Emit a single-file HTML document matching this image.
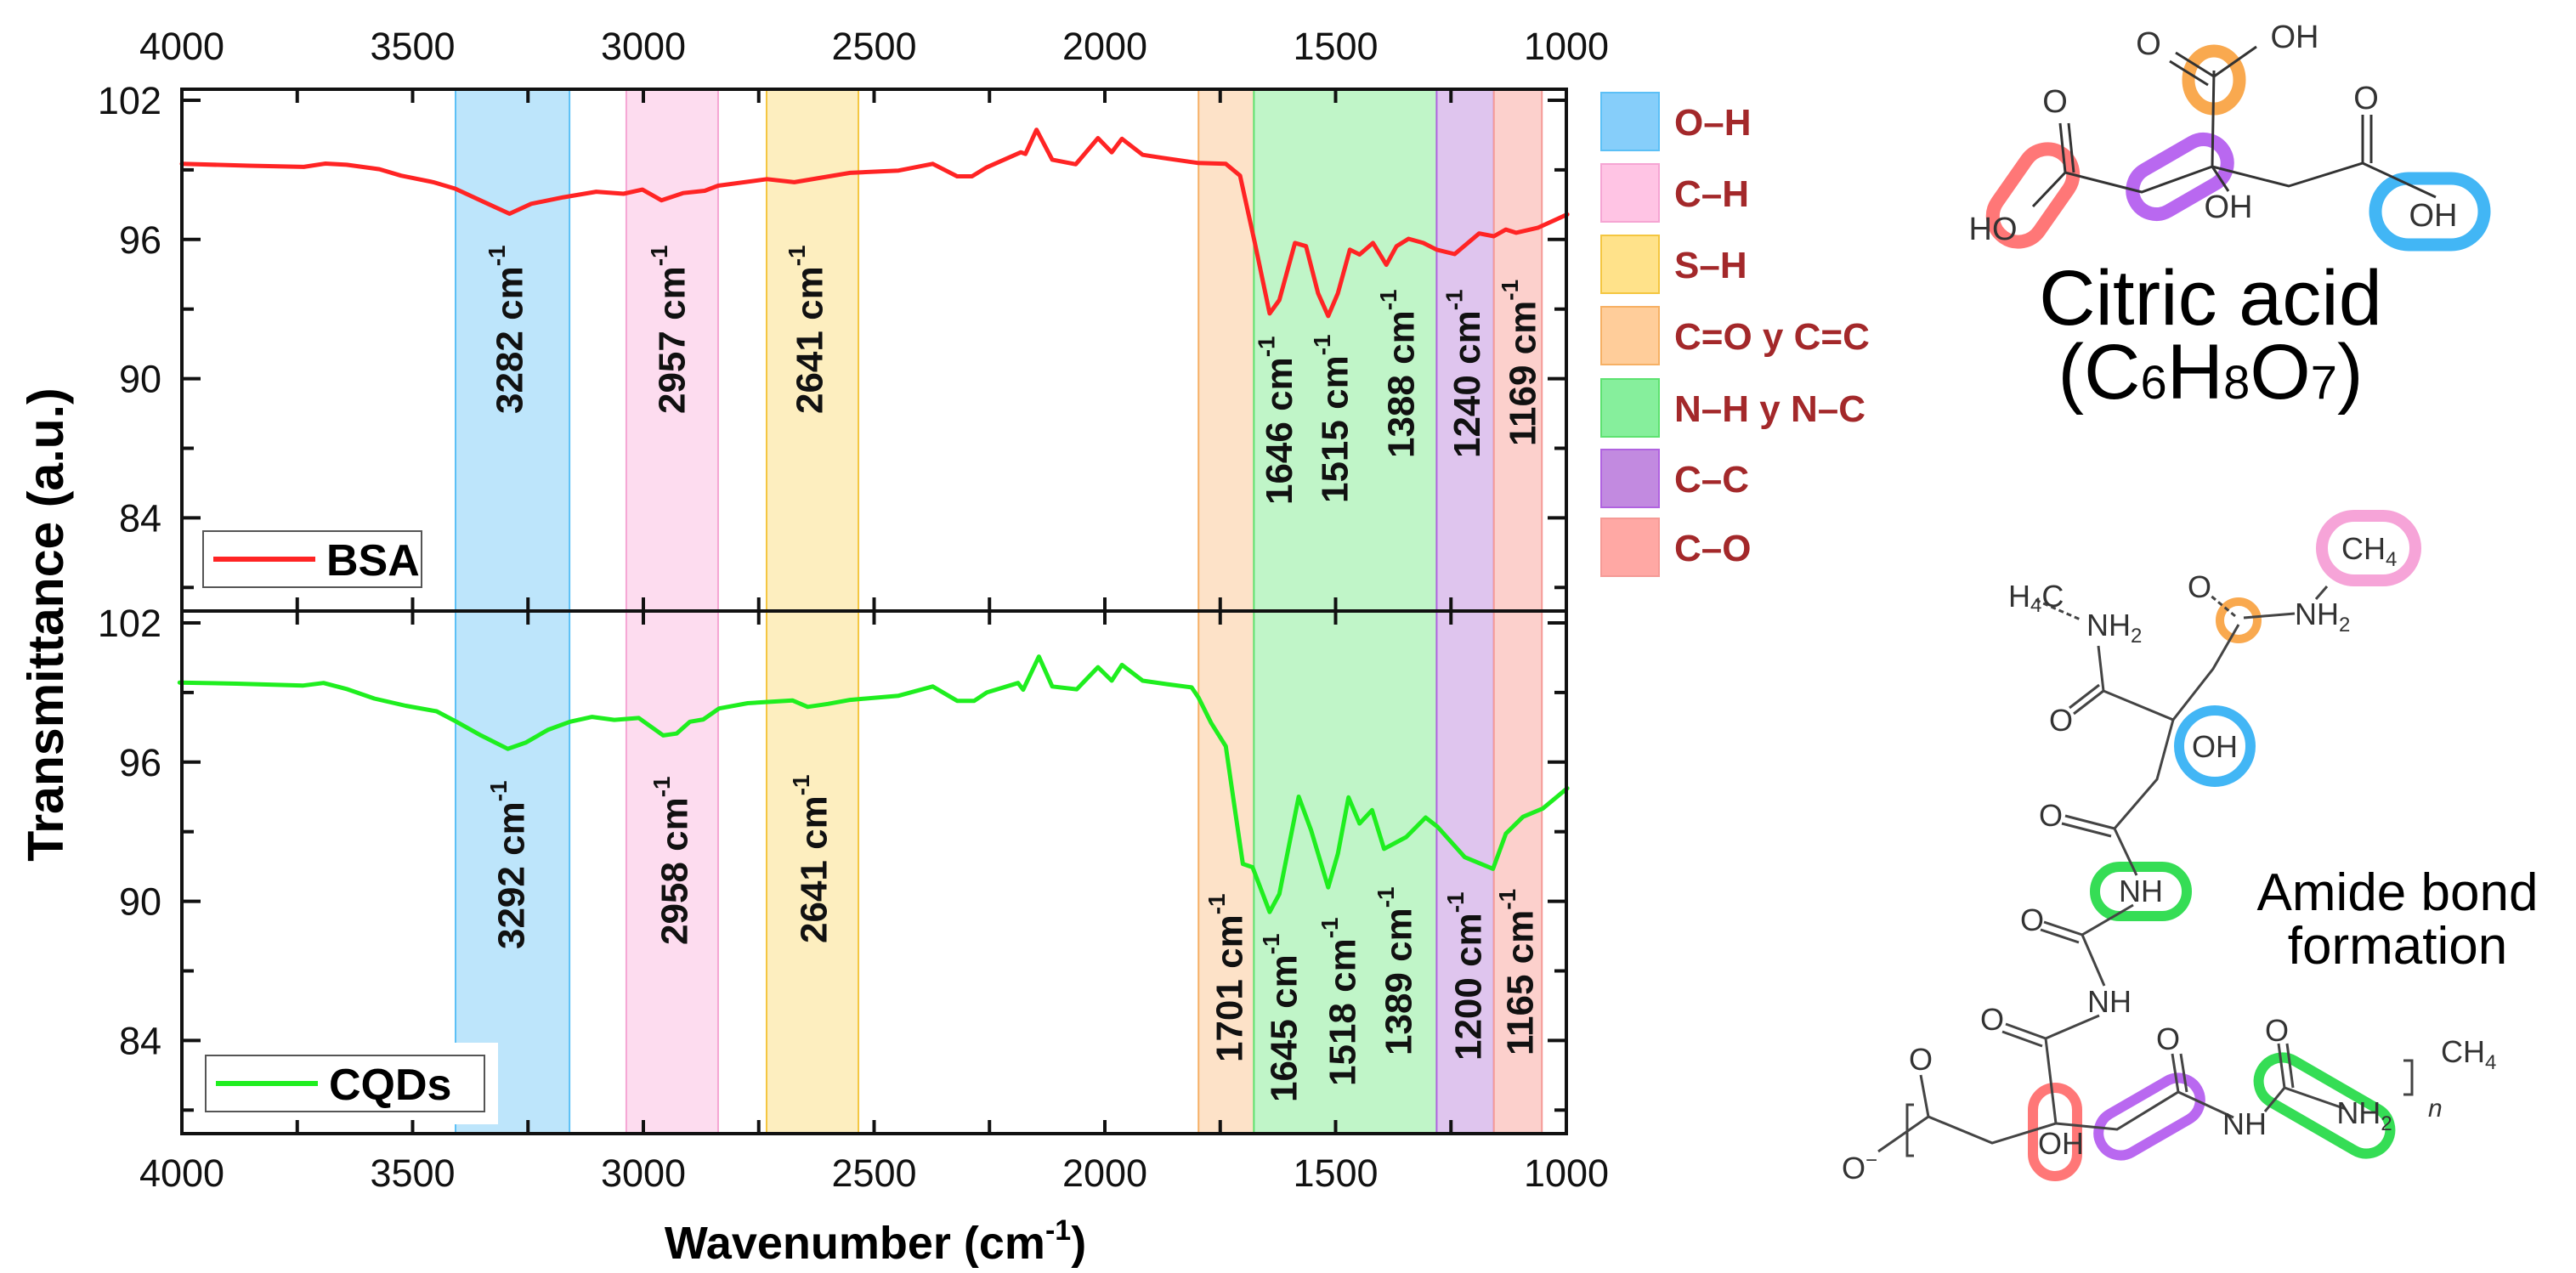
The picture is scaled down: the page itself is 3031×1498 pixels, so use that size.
<!DOCTYPE html>
<html><head><meta charset="utf-8"><style>
html,body{margin:0;padding:0;background:#fff;}
svg{display:block;}
text{font-family:"Liberation Sans",sans-serif;}
</style></head><body>
<svg id="fig" width="3031" height="1498" viewBox="0 0 3031 1498" xmlns="http://www.w3.org/2000/svg">
<g id="plot"></g>
<g id="chem" font-family="Liberation Sans, sans-serif" fill="#333">
 <g>
  <rect x="2332" y="200" width="120" height="60" rx="30" transform="rotate(-55 2392 230)" fill="none" stroke="#f77" stroke-width="16"/>
  <rect x="2505" y="180" width="120" height="56" rx="28" transform="rotate(-30 2565 208)" fill="none" stroke="#b968f0" stroke-width="16"/>
  <ellipse cx="2605" cy="94" rx="30" ry="34" fill="none" stroke="#f9a94f" stroke-width="15"/>
  <rect x="2795" y="210" width="128" height="78" rx="39" fill="none" stroke="#42b6f5" stroke-width="15"/>
  <g stroke="#333" stroke-width="3" fill="none">
   <path d="M2605 83 L2603 196 L2520 226 L2430 203 L2392 243"/>
   <path d="M2430 203 L2424 145 M2440 203 L2434 145"/>
   <path d="M2603 196 L2693 219 L2780 192 L2866 232"/>
   <path d="M2780 192 L2780 135 M2790 192 L2790 135"/>
   <path d="M2603 196 L2622 225"/>
   <path d="M2605 90 L2560 62 M2598 100 L2553 72 M2605 90 L2655 55"/>
  </g>
  <g font-size="38">
   <text x="2418" y="132" text-anchor="middle">O</text>
   <text x="2345" y="282" text-anchor="middle">HO</text>
   <text x="2622" y="256" text-anchor="middle">OH</text>
   <text x="2784" y="128" text-anchor="middle">O</text>
   <text x="2863" y="266" text-anchor="middle">OH</text>
   <text x="2528" y="64" text-anchor="middle">O</text>
   <text x="2700" y="56" text-anchor="middle">OH</text>
  </g>
  <text x="2601" y="382" text-anchor="middle" font-size="92" fill="#000">Citric acid</text>
  <text x="2601" y="469" text-anchor="middle" font-size="92" fill="#000">(C<tspan font-size="56">6</tspan>H<tspan font-size="56">8</tspan>O<tspan font-size="56">7</tspan>)</text>
 </g>
 <g>
  <rect x="2732" y="607" width="110" height="76" rx="38" fill="none" stroke="#f6a4d8" stroke-width="14"/>
  <circle cx="2634" cy="730" r="22" fill="none" stroke="#f9a94f" stroke-width="10"/>
  <circle cx="2606" cy="878" r="42" fill="none" stroke="#42b6f5" stroke-width="12"/>
  <rect x="2465" y="1020" width="108" height="58" rx="29" fill="none" stroke="#35dd55" stroke-width="12"/>
  <rect x="2392" y="1280" width="52" height="104" rx="26" fill="none" stroke="#f77" stroke-width="12"/>
  <rect x="2464" y="1288" width="130" height="52" rx="26" transform="rotate(-30 2529 1314)" fill="none" stroke="#b968f0" stroke-width="12"/>
  <rect x="2650" y="1273" width="170" height="56" rx="28" transform="rotate(30 2735 1301)" fill="none" stroke="#35dd55" stroke-width="12"/>
  <g stroke="#444" stroke-width="3" fill="none">
   <path d="M2634 735 L2604 787 L2557 847 L2475 813 L2469 760"/>
   <path d="M2475 813 L2440 840 M2470 806 L2435 833"/>
   <path d="M2640 727 L2700 722 M2738 690 L2725 705"/>
   <path d="M2630 725 L2600 700 M2395 706 L2450 730" stroke-dasharray="6 4"/>
   <path d="M2557 847 L2538 917 L2488 975 L2514 1030"/>
   <path d="M2488 975 L2430 960 M2484 984 L2426 969"/>
   <path d="M2510 1065 L2450 1100 L2476 1160 M2450 1100 L2405 1085 M2446 1109 L2401 1094"/>
   <path d="M2470 1195 L2407 1222 L2419 1322 M2407 1222 L2360 1205 M2403 1231 L2356 1214"/>
   <path d="M2419 1322 L2344 1345 L2269 1314 L2260 1265 M2269 1314 L2210 1355"/>
   <path d="M2419 1322 L2491 1329 L2563 1285 L2628 1315 M2563 1285 L2556 1240 M2573 1285 L2566 1240"/>
   <path d="M2665 1308 L2688 1280 L2760 1305 M2688 1280 L2681 1228 M2698 1280 L2691 1228"/>
   <path d="M2252 1300 L2244 1300 L2244 1360 L2252 1360 M2828 1248 L2838 1248 L2838 1288 L2828 1288"/>
  </g>
  <g font-size="36" fill="#333">
   <text x="2363" y="714">H<tspan font-size="24" dy="6">4</tspan><tspan dy="-6">C</tspan></text>
   <text x="2455" y="748">NH<tspan font-size="24" dy="8">2</tspan></text>
   <text x="2588" y="703" text-anchor="middle">O</text>
   <text x="2700" y="735">NH<tspan font-size="24" dy="8">2</tspan></text>
   <text x="2755" y="658">CH<tspan font-size="24" dy="8">4</tspan></text>
   <text x="2425" y="860" text-anchor="middle">O</text>
   <text x="2606" y="891" text-anchor="middle">OH</text>
   <text x="2413" y="972" text-anchor="middle">O</text>
   <text x="2519" y="1061" text-anchor="middle">NH</text>
   <text x="2391" y="1095" text-anchor="middle">O</text>
   <text x="2482" y="1191" text-anchor="middle">NH</text>
   <text x="2344" y="1212" text-anchor="middle">O</text>
   <text x="2425" y="1358" text-anchor="middle">OH</text>
   <text x="2260" y="1259" text-anchor="middle">O</text>
   <text x="2188" y="1387" text-anchor="middle">O<tspan font-size="24" dy="-14">−</tspan></text>
   <text x="2551" y="1235" text-anchor="middle">O</text>
   <text x="2641" y="1335" text-anchor="middle">NH</text>
   <text x="2679" y="1225" text-anchor="middle">O</text>
   <text x="2782" y="1322" text-anchor="middle">NH<tspan font-size="24" dy="8">2</tspan></text>
   <text x="2857" y="1314" font-style="italic" font-size="30">n</text>
   <text x="2872" y="1250">CH<tspan font-size="24" dy="8">4</tspan></text>
  </g>
  <text x="2821" y="1071" text-anchor="middle" font-size="62" fill="#000">Amide bond</text>
  <text x="2821" y="1134" text-anchor="middle" font-size="62" fill="#000">formation</text>
 </g>
</g>
</svg>
<script>
const xTicks = [4000, 3500, 3000, 2500, 2000, 1500, 1000];
const yTicks = [102, 96, 90, 84];
const bsaWavenumbers = [4000,3854,3736,3689,3643,3572,3525,3455,3408,3337,3290,3243,3173,3102,3043,3002,2961,2914,2867,2838,2732,2673,2552,2447,2373,2320,2288,2256,2182,2172,2148,2114,2063,2015,1985,1963,1918,1876,1799,1738,1707,1675,1643,1622,1588,1564,1538,1516,1495,1469,1448,1419,1390,1368,1342,1310,1281,1242,1189,1157,1131,1109,1062,998];
const bsaValues = [99.26,99.18,99.13,99.27,99.22,99.03,98.75,98.47,98.19,97.54,97.11,97.54,97.82,98.06,97.97,98.15,97.69,98.00,98.10,98.32,98.60,98.47,98.87,98.97,99.26,98.72,98.72,99.11,99.76,99.69,100.73,99.44,99.24,100.37,99.76,100.34,99.65,99.52,99.30,99.26,98.75,95.85,92.81,93.39,95.85,95.71,93.68,92.70,93.68,95.56,95.35,95.85,94.91,95.71,96.03,95.85,95.56,95.37,96.26,96.14,96.43,96.29,96.50,97.08];
const cqdWavenumbers = [4005,3881,3737,3693,3641,3583,3515,3448,3405,3352,3294,3255,3207,3159,3111,3063,3010,2957,2928,2899,2870,2836,2774,2677,2644,2600,2552,2447,2373,2320,2283,2256,2188,2177,2143,2114,2061,2015,1985,1963,1918,1865,1812,1797,1770,1738,1717,1701,1680,1643,1622,1580,1553,1516,1495,1472,1448,1421,1395,1347,1305,1279,1220,1159,1131,1094,1051,998];
const cqdValues = [99.43,99.38,99.30,99.41,99.14,98.74,98.43,98.19,97.74,97.15,96.57,96.84,97.39,97.74,97.95,97.82,97.90,97.15,97.23,97.74,97.84,98.31,98.54,98.66,98.38,98.51,98.68,98.86,99.26,98.64,98.64,99.00,99.41,99.12,100.55,99.26,99.14,100.09,99.51,100.19,99.51,99.36,99.22,98.78,97.70,96.68,93.79,91.61,91.47,89.54,90.31,94.51,93.06,90.60,92.05,94.48,93.35,93.93,92.26,92.77,93.61,93.21,91.90,91.40,92.92,93.64,94.00,94.87];
const bandStarts = [3407, 3037, 2733, 1797, 1677, 1281, 1157];
const bandEnds   = [3160, 2838, 2534, 1677, 1281, 1157, 1053];
const bandNames  = ["O–H", "C–H", "S–H", "C=O y C=C", "N–H y N–C", "C–C", "C–O"];
const bandFills  = ["#bde5fb", "#fddcef", "#fdeebf", "#fde2c8", "#c0f5c8", "#dfc5ee", "#fcd0cc"];
const bandStrokes= ["#5cc0f6", "#f5a5d3", "#f4c640", "#f6b064", "#5de270", "#b063e0", "#f59a96"];
const legendFills= ["#86cefa", "#ffc4e4", "#ffe28a", "#ffcd9a", "#86ef9c", "#c28ae0", "#ffa8a4"];
const bsaPeaks = [3282, 2957, 2641, 1646, 1515, 1388, 1240, 1169];
const bsaPeakLabelY = [487, 487, 487, 594, 592, 539, 539, 525];
const bsaLabelX = [3289, 2937, 2639, 1622, 1501, 1357, 1215, 1094];
const cqdPeaks = [3292, 2958, 2641, 1701, 1645, 1518, 1389, 1200, 1165];
const cqdPeakLabelY = [1117, 1112, 1110, 1250, 1297, 1278, 1242, 1248, 1242];
const cqdLabelX = [3285, 2932, 2630, 1729, 1611, 1484, 1363, 1212, 1099];

const X0 = 214, X1 = 1843, W0 = 4000, W1 = 1000;
const PX = 27.3;
const panels = [{top:105, bottom:719, ref:118}, {top:719, bottom:1334, ref:733}];
function xs(w){ return X0 + (W0 - w) * (X1 - X0) / (W0 - W1); }
function ys(v, p){ return panels[p].ref + (102 - v) * PX; }

const NS = "http://www.w3.org/2000/svg";
const root = document.getElementById('plot');
function mk(tag, attrs, parent){
  const e = document.createElementNS(NS, tag);
  for (const k in attrs) e.setAttribute(k, attrs[k]);
  (parent || root).appendChild(e);
  return e;
}

bandStarts.forEach((s, i) => {
  const r = mk('rect', {x: xs(s), y: panels[0].top, width: xs(bandEnds[i]) - xs(s), height: panels[1].bottom - panels[0].top, fill: bandFills[i], stroke: bandStrokes[i], 'stroke-width': 2});
  
  
});

const bgB = mk('rect', {x: 232, y: 618, width: 270, height: 80, fill: '#fff'});


const bgC = mk('rect', {x: 216, y: 1227, width: 370, height: 96, fill: '#fff'});



function line(ws, vs, p, color, name){
  const pts = ws.map((w, i) => xs(w).toFixed(1) + ',' + ys(vs[i], p).toFixed(1)).join(' ');
  const pl = mk('polyline', {points: pts, fill: 'none', stroke: color, 'stroke-width': 5, 'stroke-linejoin': 'round', 'stroke-linecap': 'round'});
  
  
}
line(bsaWavenumbers, bsaValues, 0, '#ff2424', 'bsa-line');
line(cqdWavenumbers, cqdValues, 1, '#1fee1f', 'cqd-line');

function peakLabel(val, xw, yb, name){
  const x = xs(xw);
  const t = mk('text', {x: x, y: yb, transform: 'rotate(-90 ' + x + ' ' + yb + ')', 'font-size': 44, 'font-weight': 'bold', 'dominant-baseline': 'central', fill: '#111'});
  
  
  t.innerHTML = val + ' cm<tspan font-size="28" dy="-16">-1</tspan>';
}
bsaPeaks.forEach((p, i) => peakLabel(p, bsaLabelX[i], bsaPeakLabelY[i], 'bsa-peak-label-' + p));
cqdPeaks.forEach((p, i) => peakLabel(p, cqdLabelX[i], cqdPeakLabelY[i], 'cqd-peak-label-' + p));

panels.forEach((pn, p) => {
  const f = mk('rect', {x: X0, y: pn.top, width: X1 - X0, height: pn.bottom - pn.top, fill: 'none', stroke: '#111', 'stroke-width': 4});
  
  
  for (let w = 4000; w >= 1000; w -= 250) {
    const x = xs(w);
    if (w > 1000 && w < 4000) {
      mk('line', {x1: x, x2: x, y1: pn.top, y2: pn.top + 16, stroke: '#111', 'stroke-width': 4});
      mk('line', {x1: x, x2: x, y1: pn.bottom, y2: pn.bottom - 16, stroke: '#111', 'stroke-width': 4});
    }
  }
  for (let v = 102; v >= 81; v -= 3) {
    const y = ys(v, p);
    const len = (v % 6 === 0) ? 22 : 14;
    mk('line', {x1: X0, x2: X0 + len, y1: y, y2: y, stroke: '#111', 'stroke-width': 4});
    mk('line', {x1: X1, x2: X1 - len, y1: y, y2: y, stroke: '#111', 'stroke-width': 4});
  }
  yTicks.forEach(v => {
    const t = mk('text', {x: 190, y: ys(v, p) + 16, 'text-anchor': 'end', 'font-size': 45, fill: '#111'});
    
    
    t.textContent = v;
  });
});
xTicks.forEach(w => {
  const t1 = mk('text', {x: xs(w), y: 70, 'text-anchor': 'middle', 'font-size': 45, fill: '#111'});
  
  
  t1.textContent = w;
  const t2 = mk('text', {x: xs(w), y: 1396, 'text-anchor': 'middle', 'font-size': 45, fill: '#111'});
  
  
  t2.textContent = w;
});

const xt = mk('text', {x: 1030, y: 1481, 'text-anchor': 'middle', 'font-size': 54, 'font-weight': 'bold', fill: '#000'});


xt.innerHTML = 'Wavenumber (cm<tspan font-size="34" dy="-22">-1</tspan><tspan dy="22">)</tspan>';
const yt = mk('text', {x: 74, y: 735, 'text-anchor': 'middle', 'font-size': 59, 'font-weight': 'bold', fill: '#000', transform: 'rotate(-90 74 735)'});


yt.textContent = 'Transmittance (a.u.)';

function seriesLegend(x, y, w, h, color, label, name){
  const g = mk('g', {});
  
  
  mk('rect', {x: x, y: y, width: w, height: h, fill: '#fff', stroke: '#555', 'stroke-width': 2}, g);
  mk('line', {x1: x + 12, x2: x + 132, y1: y + h / 2, y2: y + h / 2, stroke: color, 'stroke-width': 6}, g);
  const t = mk('text', {x: x + 145, y: y + h / 2 + 19, 'font-size': 52, 'font-weight': 'bold', fill: '#000'}, g);
  t.textContent = label;
}
seriesLegend(239, 625, 257, 66, '#ff2424', 'BSA', 'bsa-legend');
seriesLegend(242, 1242, 328, 66, '#1fee1f', 'CQDs', 'cqd-legend');

const boxTops = [109, 193, 277, 361, 446, 529, 610];
bandNames.forEach((n, i) => {
  const g = mk('g', {});
  
  
  mk('rect', {x: 1884, y: boxTops[i], width: 68, height: 68, fill: legendFills[i], stroke: bandStrokes[i], 'stroke-width': 2}, g);
  const t = mk('text', {x: 1970, y: boxTops[i] + 50, 'font-size': 44, 'font-weight': 'bold', fill: '#a3282a'}, g);
  t.textContent = n;
});
</script>
</body></html>
